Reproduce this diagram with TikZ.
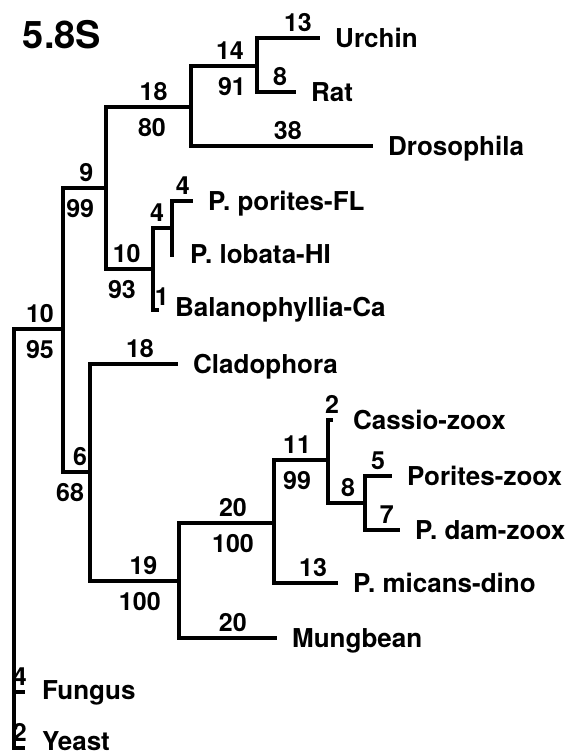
\documentclass[tikz,border=0pt]{standalone}
\usepackage{fontspec}
\setmainfont{TeX Gyre Heros}
\usetikzlibrary{positioning}

\begin{document}
\begin{tikzpicture}[
  x=1pt, y=-1pt,
  node distance=15pt,
  branch/.style={line width=3.9pt},
  taxon/.style={font=\bfseries\fontsize{26}{30}\selectfont, inner sep=0pt,
    text height=18.5pt, text depth=0pt},
  len/.style={font=\bfseries\fontsize{25}{30}\selectfont, inner sep=0pt,
    text height=17.5pt, text depth=0pt, above=5pt},
  boot/.style={len, below=10pt}
]
\useasboundingbox (0,0) rectangle (575,756);
\node[font=\bfseries\fontsize{38}{42}\selectfont, inner sep=0pt] (title) at (62,35) {5.8S};

\coordinate (root) at (14,329);
\coordinate (n95) at (63,329);
\coordinate (n99) at (106,188);
\coordinate (n80) at (191,107);
\coordinate (n91) at (257,66);
\coordinate (n93) at (153,269);
\coordinate (nP4) at (172,228);
\coordinate (n68) at (90,472);
\coordinate (n100a) at (179,581);
\coordinate (n100b) at (274,523);
\coordinate (n11) at (328,460);
\coordinate (n8) at (365,503);

\coordinate (urchintip) at (320,38);
\coordinate (rattip) at (296,92);
\coordinate (drostip) at (373,146);
\coordinate (poritestip) at (193,201);
\coordinate (lobatatip) at (172,257);
\coordinate (balanotip) at (159,310);
\coordinate (cladotip) at (178,364);
\coordinate (cassiotip) at (333,420);
\coordinate (porztip) at (392,476);
\coordinate (pdamtip) at (400,530);
\coordinate (micanstip) at (338,583);
\coordinate (mungtip) at (277,638);
\coordinate (fungustip) at (25,692);
\coordinate (yeasttip) at (25,748);

\node[taxon, right=of urchintip] (urchin) {Urchin};
\node[taxon, right=of rattip] (rat) {Rat};
\node[taxon, right=of drostip] (dros) {Drosophila};
\node[taxon, right=of poritestip] (porites) {P. porites-FL};
\node[taxon, right=18pt of lobatatip, yshift=3pt] (lobata) {P. lobata-HI};
\node[taxon, right=16pt of balanotip, yshift=3pt] (balano) {Balanophyllia-Ca};
\node[taxon, right=of cladotip] (clado) {Cladophora};
\node[taxon, right=20pt of cassiotip] (cassio) {Cassio-zoox};
\node[taxon, right=of porztip] (porz) {Porites-zoox};
\node[taxon, right=of pdamtip] (pdam) {P. dam-zoox};
\node[taxon, right=of micanstip] (micans) {P. micans-dino};
\node[taxon, right=of mungtip] (mung) {Mungbean};
\node[taxon, right=17pt of fungustip, yshift=2pt] (fungus) {Fungus};
\node[taxon, right=17pt of yeasttip, yshift=7pt] (yeast) {Yeast};

\draw[branch] (yeasttip) -| node[len, pos=.23]{2} (root)
  -- node[len, pos=.53]{10} node[boot, pos=.53]{95} (n95);
\draw[branch] (root) |- node[len, pos=.77]{4} (fungustip);
\draw[branch] (n95) |- node[len, pos=.77]{9} node[boot, pos=.70]{99} (n99);
\draw[branch] (n95) |- node[len, pos=.815]{6} node[boot, pos=.63]{68} (n68);
\draw[branch] (n99) |- node[len, pos=.78]{18} node[boot, pos=.77]{80} (n80);
\draw[branch] (n99) |- node[len, pos=.72]{10} node[boot, pos=.67]{93} (n93);
\draw[branch] (n80) |- node[len, pos=.795]{14} node[boot, pos=.81]{91} (n91);
\draw[branch] (n80) |- node[len, pos=.766]{38} (drostip);
\draw[branch] (n91) |- node[len, pos=.825]{13} (urchintip);
\draw[branch] (n91) |- node[len, pos=.795]{8} (rattip);
\draw[branch] (n93) |- node[len, pos=.605]{4} (nP4);
\draw[branch] (n93) |- node[len, right=0pt, pos=.34]{1} (balanotip);
\draw[branch] (nP4) |- node[len, pos=.76]{4} (poritestip);
\draw[branch] (nP4) -- (lobatatip);
\draw[branch] (n68) |- node[len, pos=.784]{18} (cladotip);
\draw[branch] (n68) |- node[len, pos=.80]{19} node[boot, pos=.78]{100} (n100a);
\draw[branch] (n100a) |- node[len, pos=.784]{20} node[boot, pos=.784]{100} (n100b);
\draw[branch] (n100a) |- node[len, pos=.775]{20} (mungtip);
\draw[branch] (n100b) |- node[len, pos=.713]{11} node[boot, pos=.713]{99} (n11);
\draw[branch] (n100b) |- node[len, pos=.805]{13} (micanstip);
\draw[branch] (n11) |- node[len, pos=.9]{2} (cassiotip);
\draw[branch] (n11) |- node[len, pos=.77]{8} (n8);
\draw[branch] (n8) |- node[len, pos=.74]{5} (porztip);
\draw[branch] (n8) |- node[len, pos=.81]{7} (pdamtip);
\end{tikzpicture}
\end{document}
